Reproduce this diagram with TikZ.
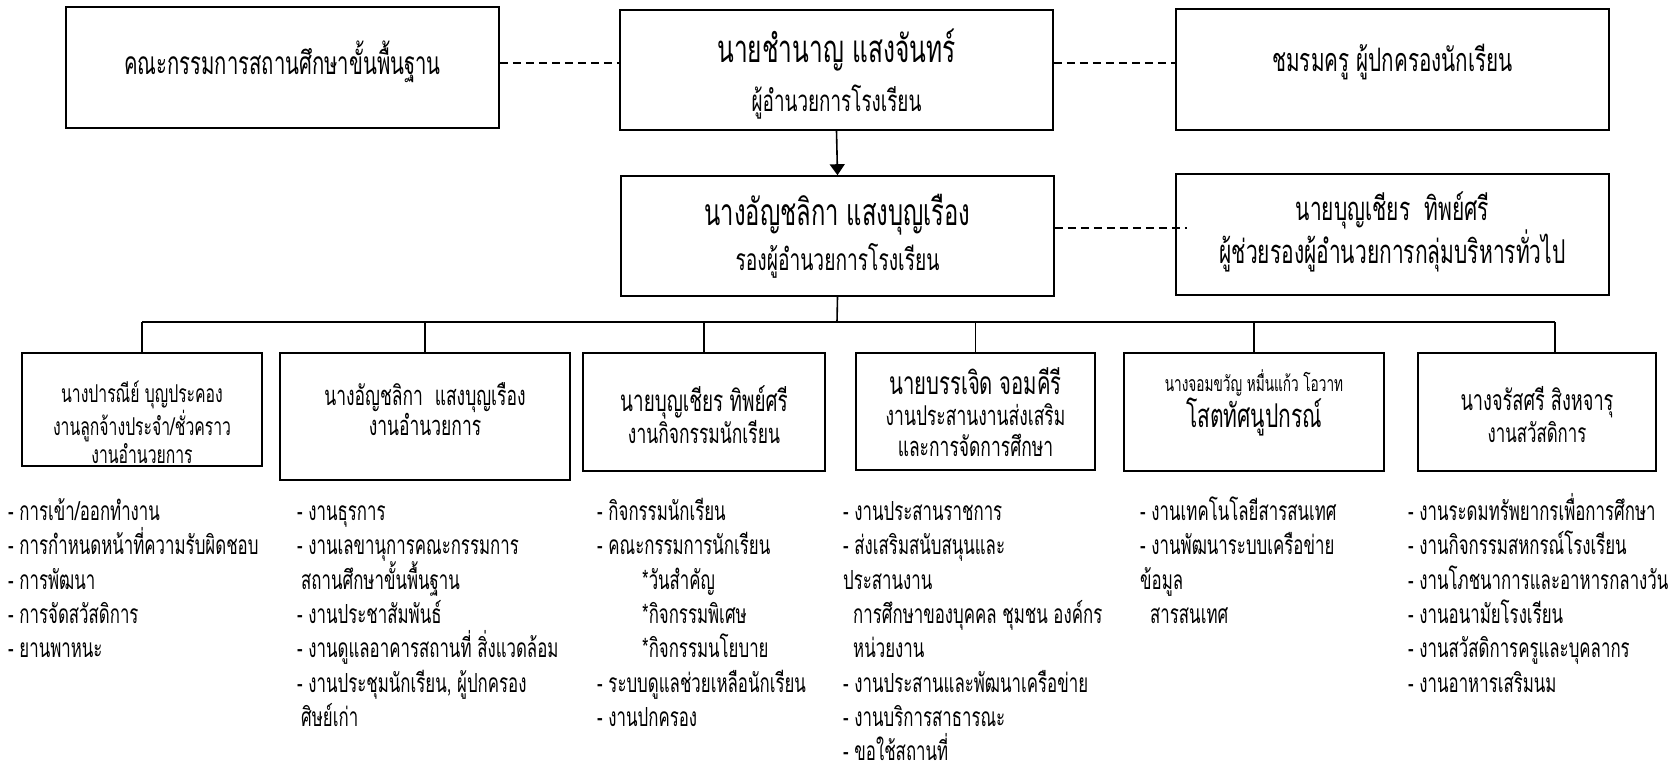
\documentclass[tikz,border=0pt]{standalone}
\usepackage{fontspec}
\newfontfamily\thai[Script=Thai,FakeStretch=0.64]{Loma}
\usetikzlibrary{arrows.meta}
\newcommand\tsize[2]{\fontsize{#1}{#2}\selectfont}

\begin{document}
\begin{tikzpicture}[x=1pt, y=-1pt,
  orgbox/.style={draw, line width=1.6pt, inner sep=0pt},
  boxtext/.style={align=center, inner sep=0pt},
  duty/.style={anchor=base west, inner sep=0pt, text depth=4pt, font=\thai\tsize{26.3}{30}},
  link/.style={line width=1.3pt, dash pattern=on 8pt off 5pt},
  tree/.style={line width=1.6pt}]
\useasboundingbox (0,0) rectangle (1668,771);
\def\top {520.5} % first baseline of the duty lists
\def\gap {34.3}  % line step of the duty lists

% top row
\node[orgbox, minimum width=433pt, minimum height=121pt] (board) at (282.5,67.5) {};
\node[orgbox, minimum width=433pt, minimum height=120pt] (director) at (836.5,70) {};
\node[orgbox, minimum width=433pt, minimum height=121pt] (club) at (1392.5,69.5) {};
\node[boxtext, font=\thai\tsize{31.7}{34}] (board-t) at (282.5,62) {คณะกรรมการสถานศึกษาขั้นพื้นฐาน};
\node[boxtext, font=\thai\tsize{29.5}{49}] (director-t) at (836.5,74)
  {{\tsize{38.3}{49}นายชำนาญ แสงจันทร์}\\ผู้อำนวยการโรงเรียน};
\node[boxtext, font=\thai\tsize{32.3}{34}] (club-t) at (1392.5,62) {ชมรมครู ผู้ปกครองนักเรียน};

% second row
\node[orgbox, minimum width=433pt, minimum height=120pt] (vice) at (837.5,236) {};
\node[orgbox, minimum width=433pt, minimum height=121pt] (asst) at (1392.5,234.5) {};
\node[boxtext, font=\thai\tsize{30}{45}] (vice-t) at (837.5,236)
  {{\tsize{37.2}{45}นางอัญชลิกา แสงบุญเรือง}\\รองผู้อำนวยการโรงเรียน};
\node[boxtext, font=\thai\tsize{32.8}{43}] (asst-t) at (1392.5,232)
  {นายบุญเชียร~~ทิพย์ศรี\\ผู้ช่วยรองผู้อำนวยการกลุ่มบริหารทั่วไป};

\draw[link] (board.east |- 0,63) -- (director.west |- 0,63);
\draw[link] (director.east |- 0,63) -- (club.west |- 0,63);
\draw[link] (vice.east |- 0,228) -- ([xshift=12pt]asst.west |- 0,228);
\draw[tree, ->, >={Triangle[width=15pt,length=11pt]}] (director.south) -- (vice.north);

% work groups
\node[orgbox, minimum width=240pt, minimum height=113pt] (g1) at (142,409.5) {};
\node[orgbox, minimum width=290pt, minimum height=127pt] (g2) at (425,416.5) {};
\node[orgbox, minimum width=242pt, minimum height=118pt] (g3) at (704,412) {};
\node[orgbox, minimum width=239pt, minimum height=117pt] (g4) at (975.5,411.5) {};
\node[orgbox, minimum width=260pt, minimum height=118pt] (g5) at (1254,412) {};
\node[orgbox, minimum width=238pt, minimum height=118pt] (g6) at (1537,412) {};

\node[boxtext, font=\thai\tsize{24.6}{28}] (g1-t) at (142,422)
  {นางปารณีย์ บุญประคอง\\งานลูกจ้างประจำ/ชั่วคราว\\งานอำนวยการ};
\node[boxtext, font=\thai\tsize{27.3}{29}] (g2-t) at (425,409)
  {นางอัญชลิกา~~แสงบุญเรือง\\งานอำนวยการ};
\node[boxtext, font=\thai\tsize{27.3}{30}] (g3-t) at (704,415)
  {{\tsize{29.5}{30}นายบุญเชียร ทิพย์ศรี}\\งานกิจกรรมนักเรียน};
\node[boxtext, font=\thai\tsize{27.3}{31}] (g4-t) at (975.5,412)
  {{\tsize{31.7}{31}นายบรรเจิด จอมคีรี}\\งานประสานงานส่งเสริม\\และการจัดการศึกษา};
\node[boxtext, font=\thai\tsize{32.8}{28}] (g5-t) at (1254,403)
  {{\tsize{21.3}{28}นางจอมขวัญ หมื่นแก้ว โอวาท}\\โสตทัศนูปกรณ์};
\node[boxtext, font=\thai\tsize{26.3}{32}] (g6-t) at (1537,415)
  {{\tsize{28.4}{32}นางจรัสศรี สิงหจารุ}\\งานสวัสดิการ};

\coordinate (bus) at (837,322);
\coordinate (g6top) at ([xshift=18pt]g6.north);
\draw[tree] (vice.south) -- (bus);
\draw[tree] (g1.north |- bus) -- (g6top |- bus);
\foreach \g in {g1,g2,g3,g4,g5,g6top}
  \draw[tree] (\g |- bus) -- (\g |- g1.north);

% duties
\foreach \t [count=\i] in {- การเข้า/ออกทำงาน, - การกำหนดหน้าที่ความรับผิดชอบ, - การพัฒนา,
    - การจัดสวัสดิการ, - ยานพาหนะ}
  \node[duty] (d1-\i) at (8,{\top+\gap*(\i-1)}) {\t};
\foreach \t [count=\i] in {- งานธุรการ, - งานเลขานุการคณะกรรมการ, {\hspace{4pt}สถานศึกษาขั้นพื้นฐาน},
    - งานประชาสัมพันธ์, - งานดูแลอาคารสถานที่ สิ่งแวดล้อม, {- งานประชุมนักเรียน, ผู้ปกครอง},
    {\hspace{4pt}ศิษย์เก่า}}
  \node[duty] (d2-\i) at (297,{\top+\gap*(\i-1)}) {\t};
\foreach \t [count=\i] in {- กิจกรรมนักเรียน, - คณะกรรมการนักเรียน, {\hspace{45pt}*วันสำคัญ},
    {\hspace{45pt}*กิจกรรมพิเศษ}, {\hspace{45pt}*กิจกรรมนโยบาย}, - ระบบดูแลช่วยเหลือนักเรียน, - งานปกครอง}
  \node[duty] (d3-\i) at (597,{\top+\gap*(\i-1)}) {\t};
\foreach \t [count=\i] in {- งานประสานราชการ, - ส่งเสริมสนับสนุนและ, ประสานงาน,
    {\hspace{10pt}การศึกษาของบุคคล ชุมชน องค์กร}, {\hspace{10pt}หน่วยงาน},
    - งานประสานและพัฒนาเครือข่าย, - งานบริการสาธารณะ, - ขอใช้สถานที่}
  \node[duty] (d4-\i) at (843,{\top+\gap*(\i-1)}) {\t};
\foreach \t [count=\i] in {- งานเทคโนโลยีสารสนเทศ, - งานพัฒนาระบบเครือข่าย, ข้อมูล,
    {\hspace{10pt}สารสนเทศ}}
  \node[duty] (d5-\i) at (1140,{\top+\gap*(\i-1)}) {\t};
\foreach \t [count=\i] in {- งานระดมทรัพยากรเพื่อการศึกษา, - งานกิจกรรมสหกรณ์โรงเรียน,
    - งานโภชนาการและอาหารกลางวัน, - งานอนามัยโรงเรียน, - งานสวัสดิการครูและบุคลากร,
    - งานอาหารเสริมนม}
  \node[duty] (d6-\i) at (1408,{\top+\gap*(\i-1)}) {\t};
\end{tikzpicture}
\end{document}
